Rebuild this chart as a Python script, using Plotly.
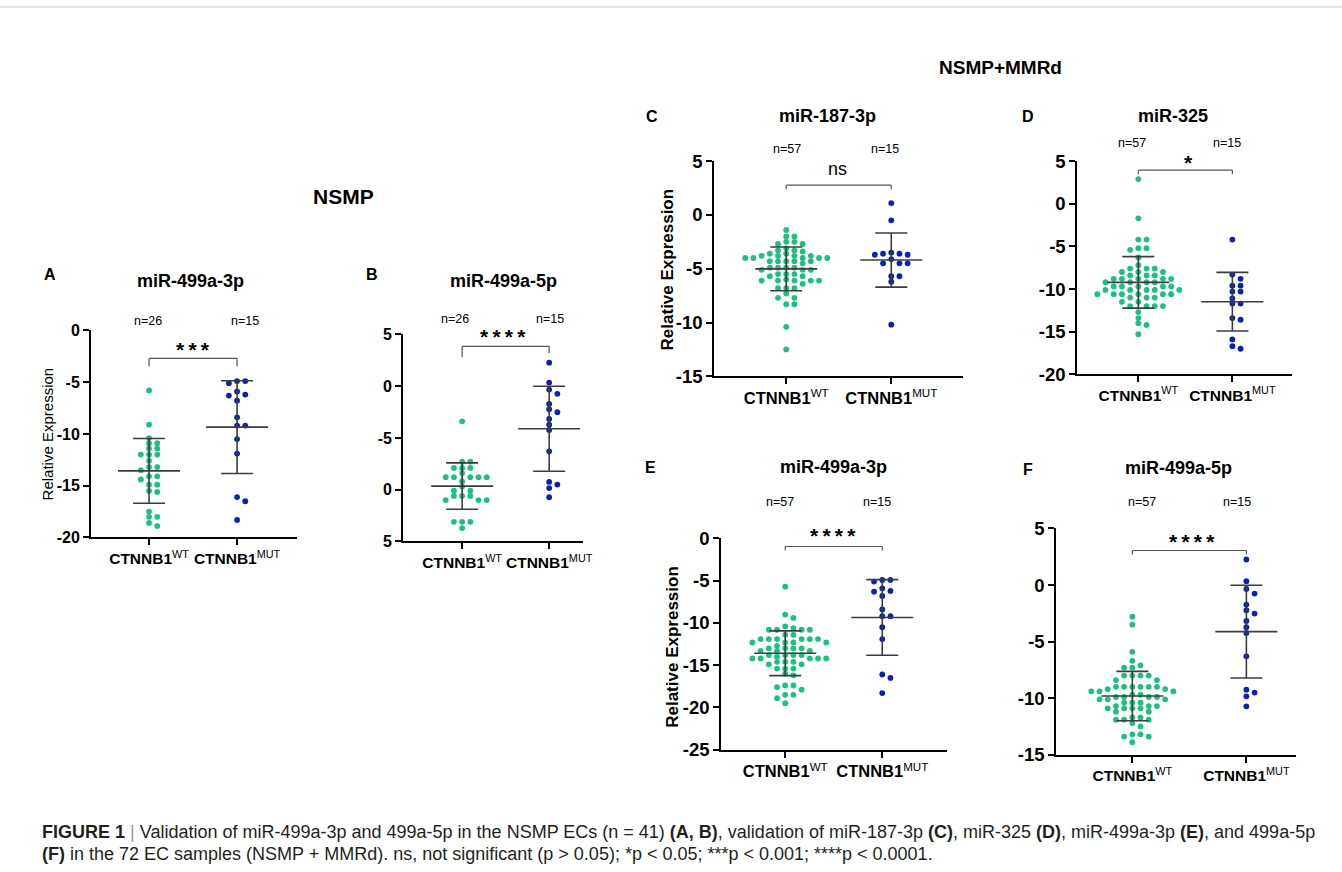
import numpy as np
import plotly.graph_objects as go

W, H = 1342, 872
FONT = "Liberation Sans, Arial, Helvetica, sans-serif"

# ---------------- data ----------------
categories = ["WT", "MUT"]
cat_labels = ["<b>CTNNB1</b><sup>WT</sup>", "<b>CTNNB1</b><sup>MUT</sup>"]

# A: miR-499a-3p, NSMP
A_wt = [-5.8, -9.1, -10.4, -10.9, -10.9, -11.4, -11.4, -12.0, -12.0, -12.0, -12.6, -13.2, -13.2,
        -13.5, -14.1, -14.1, -14.4, -14.9, -14.9, -15.5, -15.6, -17.5, -18.0, -18.0, -18.6, -18.9]
mut_3p = [-4.9, -4.9, -5.1, -5.9, -6.2, -6.3, -6.8, -8.4, -9.2, -9.2, -10.5, -11.9, -16.1, -16.5, -18.3]

# B: miR-499a-5p, NSMP
B_wt = [-3.4, -7.3, -7.3, -7.9, -7.9, -7.9, -8.4, -8.8, -8.8, -8.8, -8.8, -8.8, -9.2,
        -9.7, -10.1, -10.1, -10.6, -10.6, -10.6, -11.0, -11.0, -11.0, -13.1, -13.1, -13.1, -13.7]
mut_5p = [2.26, 0.34, -0.34, -0.75, -1.73, -2.23, -2.52, -3.17, -3.73, -4.23, -6.30, -9.25, -9.51, -9.84, -10.72]

# C: miR-187-3p, NSMP+MMRd
C_wt = [-1.4, -2.0, -2.0, -2.5, -2.5, -2.7, -2.7, -3.1, -3.3, -3.3, -3.4, -3.6, -3.6,
        -3.8, -3.8, -3.8, -3.8, -4.0, -4.0, -4.0, -4.0, -4.0, -4.3, -4.3, -4.3, -4.3, -4.3,
        -4.5, -4.9, -4.9, -4.9, -4.9, -5.1, -5.1, -5.1, -5.5, -5.5, -5.5, -5.7, -5.7, -6.0,
        -6.1, -6.1, -6.1, -6.1, -6.1, -6.4, -6.8, -6.8, -6.8, -7.3, -7.7, -7.7, -8.3, -8.3,
        -10.4, -12.5]
C_mut = [1.1, -0.5, -3.5, -3.6, -3.6, -3.7, -3.7, -4.1, -4.5, -4.5, -4.5, -5.7, -5.7, -6.2, -10.2]

# D: miR-325, NSMP+MMRd
D_wt = [2.9, -1.7, -4.2, -4.2, -5.2, -5.2, -5.4, -6.3, -7.2, -7.6, -7.6, -7.6, -8.0, -8.0,
        -8.0, -8.4, -8.4, -8.4, -8.8, -8.8, -8.8, -8.8, -8.8, -9.2, -9.2, -9.2, -9.2, -9.7,
        -9.7, -9.7, -9.7, -9.7, -10.1, -10.1, -10.1, -10.1, -10.1, -10.6, -10.6, -10.6, -10.6,
        -10.6, -10.6, -11.0, -11.0, -11.0, -11.5, -11.5, -12.0, -12.0, -12.0, -12.0, -12.7,
        -13.4, -14.0, -14.2, -15.3]
D_mut = [-4.2, -8.3, -8.8, -9.6, -9.6, -10.3, -10.3, -11.1, -11.7, -11.7, -13.4, -13.6, -15.9, -16.7, -17.0]

# E: miR-499a-3p, NSMP+MMRd
E_wt = [-5.7, -9.0, -9.4, -10.4, -10.6, -10.8, -10.8, -10.8, -10.8, -11.4, -11.4, -11.9, -11.9,
        -11.9, -11.9, -11.9, -11.9, -12.3, -12.3, -12.3, -12.3, -12.7, -13.0, -13.0, -13.0, -13.0,
        -13.3, -13.3, -13.3, -13.8, -13.8, -13.8, -13.8, -14.0, -14.2, -14.2, -14.2, -14.2, -14.2,
        -14.6, -14.6, -14.6, -14.9, -14.9, -15.4, -15.4, -15.4, -16.0, -17.4, -17.4, -17.6, -17.9,
        -18.5, -18.5, -18.9, -19.5, -16.2]

# F: miR-499a-5p, NSMP+MMRd
F_wt = [-2.8, -3.5, -5.9, -6.7, -7.1, -7.3, -7.3, -8.0, -8.0, -8.0, -8.0, -8.4, -8.4, -9.0,
        -9.0, -9.0, -9.0, -9.0, -9.0, -9.2, -9.2, -9.4, -9.4, -9.4, -9.7, -9.7, -9.9, -9.9,
        -9.9, -9.9, -10.1, -10.1, -10.1, -10.4, -10.4, -10.4, -10.7, -10.7, -10.7, -10.9, -10.9,
        -10.9, -10.9, -11.2, -11.2, -11.7, -11.7, -11.9, -11.9, -11.9, -12.2, -12.5, -13.2,
        -13.2, -13.4, -13.4, -13.9]

titles = ["miR-499a-3p", "miR-499a-5p", "miR-187-3p", "miR-325", "miR-499a-3p", "miR-499a-5p"]
letters = ["A", "B", "C", "D", "E", "F"]
n_labels = [["n=26", "n=15"], ["n=26", "n=15"], ["n=57", "n=15"],
            ["n=57", "n=15"], ["n=57", "n=15"], ["n=57", "n=15"]]
TS = "\u2009"
sig_labels = [TS.join("***"), TS.join("****"), "ns", "*", TS.join("****"), TS.join("****")]
ytick_vals = [[0, -5, -10, -15, -20], [5, 0, -5, -10, -15], [5, 0, -5, -10, -15],
              [5, 0, -5, -10, -15, -20], [0, -5, -10, -15, -20, -25], [5, 0, -5, -10, -15]]
ytick_text = [["0", "-5", "-10", "-15", "-20"], ["5", "0", "-5", "0", "5"],
              ["5", "0", "-5", "-10", "-15"], ["5", "0", "-5", "-10", "-15", "-20"],
              ["0", "-5", "-10", "-15", "-20", "-25"], ["5", "0", "-5", "-10", "-15"]]
series = [(A_wt, mut_3p), (B_wt, mut_5p), (C_wt, C_mut), (D_wt, D_mut), (E_wt, mut_3p), (F_wt, mut_5p)]

# ---------------- layout geometry (target pixels) ----------------
geo = [
    dict(x0=91, x1=297, yt=331, yb=538, cwt=149, cmut=237, tfs=16, xfs=15.5, title=(190, 282), let=(50, 275),
         n=((148, 322), (245, 322)), sig=(193, 350), br=(359, 367, 367), ytitle=(47, 435, 15, False)),
    dict(x0=403, x1=583, yt=335, yb=542, cwt=462, cmut=549, tfs=16, xfs=15.5, title=(503, 282), let=(372, 275),
         n=((455, 320), (550, 320)), sig=(503, 337), br=(347, 358, 354), ytitle=None),
    dict(x0=714, x1=963, yt=162, yb=377, cwt=786, cmut=891, tfs=18.5, xfs=16.5, title=(827, 117), let=(652, 117),
         n=((787, 150), (885, 150)), sig=(837, 170), br=(186, 190, 190), ytitle=(667, 270, 17, True)),
    dict(x0=1077, x1=1292, yt=162, yb=375, cwt=1138, cmut=1232, tfs=18.5, xfs=15.5, title=(1173, 117), let=(1028, 117),
         n=((1132, 144), (1227, 144)), sig=(1188, 163), br=(171, 175, 175), ytitle=None),
    dict(x0=721, x1=947, yt=539, yb=750, cwt=785, cmut=882, tfs=18.5, xfs=16.5, title=(833, 468), let=(650, 468),
         n=((780, 503), (877, 503)), sig=(833, 536), br=(547, 551, 551), ytitle=(672, 647, 17, True)),
    dict(x0=1056, x1=1296, yt=529, yb=755, cwt=1132, cmut=1246, tfs=18.5, xfs=15.5, title=(1178, 469), let=(1028, 470),
         n=((1142, 503), (1237, 503)), sig=(1192, 542), br=(551, 555, 555), ytitle=None),
]

GREEN = "#1EC07D"
BLUE = "#0A22B2"
LINEC = "#3c3c3c"

# measured mapping of the rendered page (paper area as displayed)
SX, SY, OY = 0.993, 0.975, 12.0


def fx(X):
    return X / (W * SX)


def fy(Y):
    return 1 - (Y - OY) / (H * SY)


def px(x, y):
    return fx(x), fy(y)


def swarm(vals, ppu, ppc, step=8.2, dot=5.0):
    vals = np.asarray(vals, float)
    order = np.argsort(-vals, kind="stable")
    placed = []
    off = np.zeros(len(vals))
    cands = [0]
    for j in range(1, 20):
        cands += [j, -j]
    for i in order:
        y = vals[i] * ppu
        for c in cands:
            x = c * step
            if all((x - a) ** 2 + (y - b) ** 2 >= dot ** 2 for a, b in placed):
                placed.append((x, y))
                off[i] = x / ppc
                break
    return off


fig = go.Figure()
annotations = []
shapes = []


def add_text(text, xy, size, bold=False, angle=0, anchor="center"):
    x, y = px(*xy)
    annotations.append(dict(text=text, x=x, y=y, xref="paper", yref="paper",
                            xanchor=anchor, yanchor="middle", showarrow=False,
                            textangle=angle,
                            font=dict(family=FONT, size=size, color="black",
                                      weight="bold" if bold else "normal")))


for p in range(6):
    g = geo[p]
    ax = "" if p == 0 else str(p + 1)
    xref, yref = "x" + ax, "y" + ax
    tv = ytick_vals[p]
    ytop, ybot = max(tv), min(tv)
    ppc = g["cmut"] - g["cwt"]
    ppu = (g["yb"] - g["yt"]) / (ytop - ybot)
    xr = [(g["x0"] - g["cwt"]) / ppc, (g["x1"] - g["cwt"]) / ppc]

    for ci, (vals, col) in enumerate(zip(series[p], [GREEN, BLUE])):
        vals = np.asarray(vals, float)
        off = swarm(vals, ppu, ppc)
        fig.add_trace(go.Scatter(x=ci + off, y=vals, mode="markers",
                                 marker=dict(size=5.8, color=col), xaxis=xref, yaxis=yref,
                                 showlegend=False, hoverinfo="y"))
        m = vals.mean()
        sd = vals.std(ddof=1)
        hw = 31 / ppc
        cw = 16 / ppc
        line = dict(color=LINEC, width=1.6)
        fig.add_trace(go.Scatter(x=[ci - hw, ci + hw], y=[m, m], mode="lines", line=line,
                                 xaxis=xref, yaxis=yref, showlegend=False, hoverinfo="skip"))
        fig.add_trace(go.Scatter(x=[ci - cw, ci + cw, None, ci, ci, None, ci - cw, ci + cw],
                                 y=[m + sd, m + sd, None, m + sd, m - sd, None, m - sd, m - sd],
                                 mode="lines", line=line, xaxis=xref, yaxis=yref,
                                 showlegend=False, hoverinfo="skip"))

    fig.update_layout(**{
        "xaxis" + ax: dict(domain=[fx(g["x0"]), fx(g["x1"])], range=xr, tickvals=[0, 1],
                           ticktext=cat_labels, showline=True, linecolor="black", linewidth=2,
                           ticks="outside", ticklen=6, tickwidth=2, tickcolor="black",
                           showgrid=False, zeroline=False, anchor=yref,
                           tickfont=dict(family=FONT, size=g["xfs"], color="black")),
        "yaxis" + ax: dict(domain=[fy(g["yb"]), fy(g["yt"])], range=[ybot, ytop],
                           tickvals=tv, ticktext=ytick_text[p], showline=True, linecolor="black",
                           linewidth=2, ticks="outside", ticklen=6, tickwidth=2, tickcolor="black",
                           showgrid=False, zeroline=False, anchor=xref,
                           tickfont=dict(family=FONT, size=g["tfs"], color="black", weight="bold")),
    })

    add_text(titles[p], g["title"], 18, True)
    add_text(letters[p], g["let"], 16, True)
    add_text(n_labels[p][0], g["n"][0], 12.5)
    add_text(n_labels[p][1], g["n"][1], 12.5)
    if sig_labels[p] == "ns":
        add_text("ns", g["sig"], 18)
    else:
        add_text(sig_labels[p], g["sig"], 21, True)
    if g["ytitle"]:
        yx, yy, ys, yb = g["ytitle"]
        add_text("Relative Expression", (yx, yy), ys, yb, -90)

    by, bl, brr = g["br"]
    bline = dict(color="#555", width=1.2)
    shapes.append(dict(type="line", xref=xref, yref="paper", x0=0, x1=1,
                       y0=fy(by), y1=fy(by), line=bline))
    shapes.append(dict(type="line", xref=xref, yref="paper", x0=0, x1=0,
                       y0=fy(by), y1=fy(bl), line=bline))
    shapes.append(dict(type="line", xref=xref, yref="paper", x0=1, x1=1,
                       y0=fy(by), y1=fy(brr), line=bline))

# headers
add_text("NSMP", (343, 197), 21, True)
add_text("NSMP+MMRd", (1000, 68), 19, True)

# caption
cap1 = ("<b>FIGURE 1</b> <span style='color:#9a9a9a'>|</span> Validation of miR-499a-3p and 499a-5p in the "
        "NSMP ECs (n = 41) <b>(A, B)</b>, validation of miR-187-3p <b>(C)</b>, miR-325 <b>(D)</b>, "
        "miR-499a-3p <b>(E)</b>, and 499a-5p")
cap2 = ("<b>(F)</b> in the 72 EC samples (NSMP + MMRd). ns, not significant (p &gt; 0.05); *p &lt; 0.05; "
        "***p &lt; 0.001; ****p &lt; 0.0001.")
for text, yy in [(cap1, 832), (cap2, 854)]:
    x, y = px(40, yy)
    annotations.append(dict(text=text, x=x, y=y, xref="paper", yref="paper", showarrow=False,
                            xanchor="left", yanchor="middle",
                            font=dict(family=FONT, size=18.0, color="#231f20")))

shapes.append(dict(type="line", xref="paper", yref="paper", x0=0, x1=1.05, y0=fy(8), y1=fy(8),
                   line=dict(color="#c8c8c8", width=1)))

fig.update_layout(width=W, height=H, margin=dict(l=0, r=0, t=0, b=0),
                  plot_bgcolor="white", paper_bgcolor="white",
                  annotations=annotations, shapes=shapes, showlegend=False,
                  font=dict(family=FONT))

fig.write_html("out.html", config={"displayModeBar": False},
               post_script="document.body.style.margin='0';document.body.style.overflow='hidden';")
